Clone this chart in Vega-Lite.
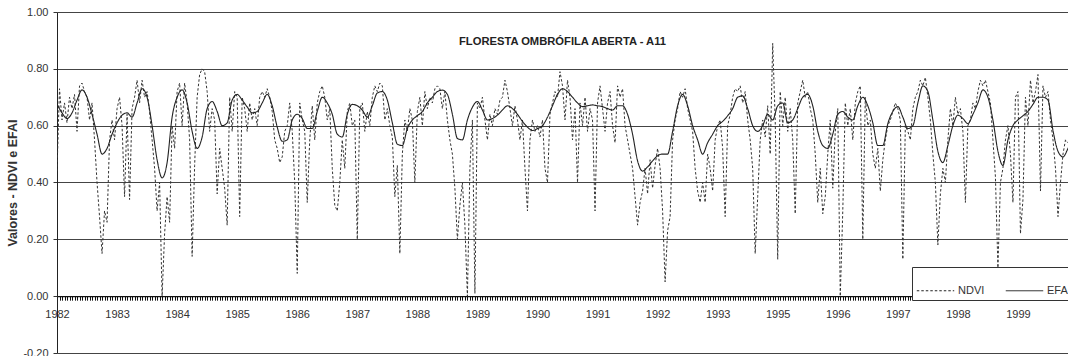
{
"$schema": "https://vega.github.io/schema/vega-lite/v6.json",
"width": 1011, "height": 341,
"autosize": {"type": "none"},
"padding": {"left": 57, "top": 12, "right": 0, "bottom": 3},
"background": "white",
"config": {"font": "Liberation Sans", "view": {"stroke": null}},
"title": {"text": "FLORESTA OMBRÓFILA ABERTA - A11", "fontSize": 11.2, "fontWeight": "bold", "color": "#222", "anchor": "middle", "frame": "group", "dy": 45},
"data": {"values": [
{"n":0,"NDVI":0.44,"EFAI":0.676},{"n":1,"NDVI":0.73},{"n":2,"NDVI":0.62,"EFAI":0.645},{"n":3,"NDVI":0.68},{"n":4,"NDVI":0.61,"EFAI":0.625},{"n":5,"NDVI":0.70},{"n":6,"NDVI":0.66,"EFAI":0.645},{"n":7,"NDVI":0.71},{"n":8,"NDVI":0.58,"EFAI":0.69},{"n":9,"NDVI":0.74},
{"n":10,"NDVI":0.75,"EFAI":0.726},{"n":11,"NDVI":0.72},{"n":12,"NDVI":0.70,"EFAI":0.70},{"n":13,"NDVI":0.62},{"n":14,"NDVI":0.68,"EFAI":0.64},{"n":15,"NDVI":0.55},{"n":16,"NDVI":0.40,"EFAI":0.57},{"n":17,"NDVI":0.28},{"n":18,"NDVI":0.15,"EFAI":0.50},{"n":19,"NDVI":0.30},
{"n":20,"NDVI":0.26,"EFAI":0.52},{"n":21,"NDVI":0.55},{"n":22,"NDVI":0.62,"EFAI":0.57},{"n":23,"NDVI":0.55},{"n":24,"NDVI":0.66,"EFAI":0.61},{"n":25,"NDVI":0.70},{"n":26,"NDVI":0.60,"EFAI":0.637},{"n":27,"NDVI":0.35},{"n":28,"NDVI":0.64,"EFAI":0.645},{"n":29,"NDVI":0.34},
{"n":30,"NDVI":0.66,"EFAI":0.63},{"n":31,"NDVI":0.70},{"n":32,"NDVI":0.76,"EFAI":0.68},{"n":33,"NDVI":0.68},{"n":34,"NDVI":0.76,"EFAI":0.73},{"n":35,"NDVI":0.70},{"n":36,"NDVI":0.72,"EFAI":0.70},{"n":37,"NDVI":0.65},{"n":38,"NDVI":0.55,"EFAI":0.60},{"n":39,"NDVI":0.45},
{"n":40,"NDVI":0.30,"EFAI":0.48},{"n":41,"NDVI":0.40},{"n":42,"NDVI":0.00,"EFAI":0.416},{"n":43,"NDVI":0.22},{"n":44,"NDVI":0.35,"EFAI":0.47},{"n":45,"NDVI":0.26},{"n":46,"NDVI":0.60,"EFAI":0.63},{"n":47,"NDVI":0.52},{"n":48,"NDVI":0.72,"EFAI":0.70},{"n":49,"NDVI":0.75},
{"n":50,"NDVI":0.60,"EFAI":0.726},{"n":51,"NDVI":0.75},{"n":52,"NDVI":0.68,"EFAI":0.68},{"n":53,"NDVI":0.55},{"n":54,"NDVI":0.14,"EFAI":0.58},{"n":55,"NDVI":0.46},{"n":56,"NDVI":0.70,"EFAI":0.52},{"n":57,"NDVI":0.78},{"n":58,"NDVI":0.80,"EFAI":0.56},{"n":59,"NDVI":0.79},
{"n":60,"NDVI":0.72,"EFAI":0.66},{"n":61,"NDVI":0.58},{"n":62,"NDVI":0.66,"EFAI":0.685},{"n":63,"NDVI":0.62},{"n":64,"NDVI":0.36,"EFAI":0.65},{"n":65,"NDVI":0.52},{"n":66,"NDVI":0.45,"EFAI":0.60},{"n":67,"NDVI":0.38},{"n":68,"NDVI":0.25,"EFAI":0.61},{"n":69,"NDVI":0.70},
{"n":70,"NDVI":0.58,"EFAI":0.69},{"n":71,"NDVI":0.72},{"n":72,"NDVI":0.70,"EFAI":0.71},{"n":73,"NDVI":0.28},{"n":74,"NDVI":0.70,"EFAI":0.69},{"n":75,"NDVI":0.66},{"n":76,"NDVI":0.58,"EFAI":0.666},{"n":77,"NDVI":0.68},{"n":78,"NDVI":0.62,"EFAI":0.645},{"n":79,"NDVI":0.66},
{"n":80,"NDVI":0.60,"EFAI":0.65},{"n":81,"NDVI":0.70},{"n":82,"NDVI":0.72,"EFAI":0.68},{"n":83,"NDVI":0.70},{"n":84,"NDVI":0.73,"EFAI":0.71},{"n":85,"NDVI":0.70},{"n":86,"NDVI":0.65,"EFAI":0.67},{"n":87,"NDVI":0.55},{"n":88,"NDVI":0.52,"EFAI":0.595},{"n":89,"NDVI":0.47},
{"n":90,"NDVI":0.49,"EFAI":0.545},{"n":91,"NDVI":0.58},{"n":92,"NDVI":0.60,"EFAI":0.55},{"n":93,"NDVI":0.68},{"n":94,"NDVI":0.58,"EFAI":0.62},{"n":95,"NDVI":0.40},{"n":96,"NDVI":0.08,"EFAI":0.64},{"n":97,"NDVI":0.68},{"n":98,"NDVI":0.62,"EFAI":0.625},{"n":99,"NDVI":0.58},
{"n":100,"NDVI":0.33,"EFAI":0.59},{"n":101,"NDVI":0.55},{"n":102,"NDVI":0.67,"EFAI":0.59},{"n":103,"NDVI":0.55},{"n":104,"NDVI":0.68,"EFAI":0.65},{"n":105,"NDVI":0.72},{"n":106,"NDVI":0.74,"EFAI":0.70},{"n":107,"NDVI":0.70},{"n":108,"NDVI":0.62,"EFAI":0.68},{"n":109,"NDVI":0.66},
{"n":110,"NDVI":0.45,"EFAI":0.64},{"n":111,"NDVI":0.32},{"n":112,"NDVI":0.30,"EFAI":0.57},{"n":113,"NDVI":0.40},{"n":114,"NDVI":0.55,"EFAI":0.56},{"n":115,"NDVI":0.45},{"n":116,"NDVI":0.65,"EFAI":0.64},{"n":117,"NDVI":0.68},{"n":118,"NDVI":0.60,"EFAI":0.675},{"n":119,"NDVI":0.62},
{"n":120,"NDVI":0.20,"EFAI":0.67},{"n":121,"NDVI":0.66},{"n":122,"NDVI":0.68,"EFAI":0.655},{"n":123,"NDVI":0.58},{"n":124,"NDVI":0.65,"EFAI":0.63},{"n":125,"NDVI":0.60},{"n":126,"NDVI":0.70,"EFAI":0.67},{"n":127,"NDVI":0.74},{"n":128,"NDVI":0.72,"EFAI":0.715},{"n":129,"NDVI":0.75},
{"n":130,"NDVI":0.74,"EFAI":0.72},{"n":131,"NDVI":0.62},{"n":132,"NDVI":0.66,"EFAI":0.69},{"n":133,"NDVI":0.60},{"n":134,"NDVI":0.56,"EFAI":0.61},{"n":135,"NDVI":0.35},{"n":136,"NDVI":0.46,"EFAI":0.535},{"n":137,"NDVI":0.15},{"n":138,"NDVI":0.50,"EFAI":0.53},{"n":139,"NDVI":0.62},
{"n":140,"NDVI":0.58,"EFAI":0.59},{"n":141,"NDVI":0.66},{"n":142,"NDVI":0.62,"EFAI":0.62},{"n":143,"NDVI":0.40},{"n":144,"NDVI":0.65,"EFAI":0.635},{"n":145,"NDVI":0.70},{"n":146,"NDVI":0.60,"EFAI":0.65},{"n":147,"NDVI":0.72},{"n":148,"NDVI":0.66,"EFAI":0.68},{"n":149,"NDVI":0.70},
{"n":150,"NDVI":0.68,"EFAI":0.70},{"n":151,"NDVI":0.73},{"n":152,"NDVI":0.74,"EFAI":0.72},{"n":153,"NDVI":0.73},{"n":154,"NDVI":0.66,"EFAI":0.725},{"n":155,"NDVI":0.72},{"n":156,"NDVI":0.62,"EFAI":0.71},{"n":157,"NDVI":0.55},{"n":158,"NDVI":0.50,"EFAI":0.64},{"n":159,"NDVI":0.38},
{"n":160,"NDVI":0.20,"EFAI":0.555},{"n":161,"NDVI":0.32},{"n":162,"NDVI":0.40,"EFAI":0.55},{"n":163,"NDVI":0.25},{"n":164,"NDVI":0.00,"EFAI":0.62},{"n":165,"NDVI":0.45},{"n":166,"NDVI":0.62,"EFAI":0.665},{"n":167,"NDVI":0.01},{"n":168,"NDVI":0.68,"EFAI":0.685},{"n":169,"NDVI":0.66},
{"n":170,"NDVI":0.70,"EFAI":0.655},{"n":171,"NDVI":0.62},{"n":172,"NDVI":0.55,"EFAI":0.62},{"n":173,"NDVI":0.64},{"n":174,"NDVI":0.60,"EFAI":0.625},{"n":175,"NDVI":0.66},{"n":176,"NDVI":0.64,"EFAI":0.637},{"n":177,"NDVI":0.69},{"n":178,"NDVI":0.70,"EFAI":0.655},{"n":179,"NDVI":0.76},
{"n":180,"NDVI":0.72,"EFAI":0.67},{"n":181,"NDVI":0.66},{"n":182,"NDVI":0.60,"EFAI":0.66},{"n":183,"NDVI":0.67},{"n":184,"NDVI":0.62,"EFAI":0.64},{"n":185,"NDVI":0.55},{"n":186,"NDVI":0.62,"EFAI":0.615},{"n":187,"NDVI":0.45},{"n":188,"NDVI":0.30,"EFAI":0.595},{"n":189,"NDVI":0.55},
{"n":190,"NDVI":0.62,"EFAI":0.583},{"n":191,"NDVI":0.58},{"n":192,"NDVI":0.60,"EFAI":0.59},{"n":193,"NDVI":0.56},{"n":194,"NDVI":0.62,"EFAI":0.60},{"n":195,"NDVI":0.45},{"n":196,"NDVI":0.40,"EFAI":0.63},{"n":197,"NDVI":0.64},{"n":198,"NDVI":0.68,"EFAI":0.67},{"n":199,"NDVI":0.72},
{"n":200,"NDVI":0.70,"EFAI":0.71},{"n":201,"NDVI":0.79},{"n":202,"NDVI":0.74,"EFAI":0.73},{"n":203,"NDVI":0.62},{"n":204,"NDVI":0.76,"EFAI":0.72},{"n":205,"NDVI":0.70},{"n":206,"NDVI":0.55,"EFAI":0.70},{"n":207,"NDVI":0.66},{"n":208,"NDVI":0.40,"EFAI":0.68},{"n":209,"NDVI":0.68},
{"n":210,"NDVI":0.60,"EFAI":0.667},{"n":211,"NDVI":0.70},{"n":212,"NDVI":0.58,"EFAI":0.67},{"n":213,"NDVI":0.66},{"n":214,"NDVI":0.62,"EFAI":0.673},{"n":215,"NDVI":0.30},{"n":216,"NDVI":0.68,"EFAI":0.67},{"n":217,"NDVI":0.74},{"n":218,"NDVI":0.66,"EFAI":0.667},{"n":219,"NDVI":0.58},
{"n":220,"NDVI":0.68,"EFAI":0.66},{"n":221,"NDVI":0.72},{"n":222,"NDVI":0.60,"EFAI":0.655},{"n":223,"NDVI":0.54},{"n":224,"NDVI":0.74,"EFAI":0.67},{"n":225,"NDVI":0.70},{"n":226,"NDVI":0.73,"EFAI":0.67},{"n":227,"NDVI":0.60},{"n":228,"NDVI":0.55,"EFAI":0.64},{"n":229,"NDVI":0.50},
{"n":230,"NDVI":0.45,"EFAI":0.57},{"n":231,"NDVI":0.35},{"n":232,"NDVI":0.25,"EFAI":0.476},{"n":233,"NDVI":0.33},{"n":234,"NDVI":0.37,"EFAI":0.44},{"n":235,"NDVI":0.45},{"n":236,"NDVI":0.36,"EFAI":0.455},{"n":237,"NDVI":0.48},{"n":238,"NDVI":0.38,"EFAI":0.476},{"n":239,"NDVI":0.46},
{"n":240,"NDVI":0.52,"EFAI":0.494},{"n":241,"NDVI":0.45},{"n":242,"NDVI":0.30,"EFAI":0.50},{"n":243,"NDVI":0.05},{"n":244,"NDVI":0.23,"EFAI":0.50},{"n":245,"NDVI":0.28},{"n":246,"NDVI":0.55,"EFAI":0.58},{"n":247,"NDVI":0.62},{"n":248,"NDVI":0.66,"EFAI":0.67},{"n":249,"NDVI":0.72},
{"n":250,"NDVI":0.70,"EFAI":0.71},{"n":251,"NDVI":0.73},{"n":252,"NDVI":0.66,"EFAI":0.67},{"n":253,"NDVI":0.62},{"n":254,"NDVI":0.58,"EFAI":0.60},{"n":255,"NDVI":0.45},{"n":256,"NDVI":0.37,"EFAI":0.55},{"n":257,"NDVI":0.33},{"n":258,"NDVI":0.40,"EFAI":0.50},{"n":259,"NDVI":0.33},
{"n":260,"NDVI":0.50,"EFAI":0.54},{"n":261,"NDVI":0.45},{"n":262,"NDVI":0.37,"EFAI":0.57},{"n":263,"NDVI":0.55},{"n":264,"NDVI":0.60,"EFAI":0.60},{"n":265,"NDVI":0.62},{"n":266,"NDVI":0.52,"EFAI":0.615},{"n":267,"NDVI":0.28},{"n":268,"NDVI":0.60,"EFAI":0.635},{"n":269,"NDVI":0.64},
{"n":270,"NDVI":0.70,"EFAI":0.66},{"n":271,"NDVI":0.73},{"n":272,"NDVI":0.72,"EFAI":0.70},{"n":273,"NDVI":0.74},{"n":274,"NDVI":0.68,"EFAI":0.705},{"n":275,"NDVI":0.72},{"n":276,"NDVI":0.62,"EFAI":0.66},{"n":277,"NDVI":0.55},{"n":278,"NDVI":0.45,"EFAI":0.60},{"n":279,"NDVI":0.15},
{"n":280,"NDVI":0.35,"EFAI":0.58},{"n":281,"NDVI":0.55},{"n":282,"NDVI":0.62,"EFAI":0.60},{"n":283,"NDVI":0.56},{"n":284,"NDVI":0.67,"EFAI":0.64},{"n":285,"NDVI":0.50},{"n":286,"NDVI":0.89,"EFAI":0.62},{"n":287,"NDVI":0.62},{"n":288,"NDVI":0.13,"EFAI":0.67},{"n":289,"NDVI":0.72},
{"n":290,"NDVI":0.60,"EFAI":0.68},{"n":291,"NDVI":0.70},{"n":292,"NDVI":0.58,"EFAI":0.61},{"n":293,"NDVI":0.66},{"n":294,"NDVI":0.55,"EFAI":0.62},{"n":295,"NDVI":0.29},{"n":296,"NDVI":0.68,"EFAI":0.66},{"n":297,"NDVI":0.72},{"n":298,"NDVI":0.76,"EFAI":0.70},{"n":299,"NDVI":0.70},
{"n":300,"NDVI":0.72,"EFAI":0.71},{"n":301,"NDVI":0.66},{"n":302,"NDVI":0.62,"EFAI":0.67},{"n":303,"NDVI":0.50},{"n":304,"NDVI":0.33,"EFAI":0.58},{"n":305,"NDVI":0.45},{"n":306,"NDVI":0.29,"EFAI":0.53},{"n":307,"NDVI":0.35},{"n":308,"NDVI":0.50,"EFAI":0.52},{"n":309,"NDVI":0.62},
{"n":310,"NDVI":0.38,"EFAI":0.57},{"n":311,"NDVI":0.58},{"n":312,"NDVI":0.66,"EFAI":0.64},{"n":313,"NDVI":0.00},{"n":314,"NDVI":0.30,"EFAI":0.65},{"n":315,"NDVI":0.68},{"n":316,"NDVI":0.60,"EFAI":0.63},{"n":317,"NDVI":0.66},{"n":318,"NDVI":0.55,"EFAI":0.62},{"n":319,"NDVI":0.68},
{"n":320,"NDVI":0.72,"EFAI":0.67},{"n":321,"NDVI":0.74},{"n":322,"NDVI":0.20,"EFAI":0.70},{"n":323,"NDVI":0.70},{"n":324,"NDVI":0.60,"EFAI":0.67},{"n":325,"NDVI":0.62},{"n":326,"NDVI":0.50,"EFAI":0.61},{"n":327,"NDVI":0.45},{"n":328,"NDVI":0.52,"EFAI":0.53},{"n":329,"NDVI":0.37},
{"n":330,"NDVI":0.48,"EFAI":0.53},{"n":331,"NDVI":0.55},{"n":332,"NDVI":0.60,"EFAI":0.607},{"n":333,"NDVI":0.62},{"n":334,"NDVI":0.65,"EFAI":0.65},{"n":335,"NDVI":0.68},{"n":336,"NDVI":0.66,"EFAI":0.667},{"n":337,"NDVI":0.62},{"n":338,"NDVI":0.13,"EFAI":0.63},{"n":339,"NDVI":0.60},
{"n":340,"NDVI":0.58,"EFAI":0.59},{"n":341,"NDVI":0.55},{"n":342,"NDVI":0.66,"EFAI":0.60},{"n":343,"NDVI":0.70},{"n":344,"NDVI":0.72,"EFAI":0.68},{"n":345,"NDVI":0.76},{"n":346,"NDVI":0.74,"EFAI":0.74},{"n":347,"NDVI":0.77},{"n":348,"NDVI":0.70,"EFAI":0.72},{"n":349,"NDVI":0.62},
{"n":350,"NDVI":0.50,"EFAI":0.62},{"n":351,"NDVI":0.40},{"n":352,"NDVI":0.18,"EFAI":0.51},{"n":353,"NDVI":0.36},{"n":354,"NDVI":0.45,"EFAI":0.47},{"n":355,"NDVI":0.40},{"n":356,"NDVI":0.55,"EFAI":0.53},{"n":357,"NDVI":0.66},{"n":358,"NDVI":0.60,"EFAI":0.60},{"n":359,"NDVI":0.70},
{"n":360,"NDVI":0.64,"EFAI":0.637},{"n":361,"NDVI":0.66},{"n":362,"NDVI":0.58,"EFAI":0.625},{"n":363,"NDVI":0.33},{"n":364,"NDVI":0.60,"EFAI":0.607},{"n":365,"NDVI":0.62},{"n":366,"NDVI":0.68,"EFAI":0.64},{"n":367,"NDVI":0.66},{"n":368,"NDVI":0.72,"EFAI":0.68},{"n":369,"NDVI":0.76},
{"n":370,"NDVI":0.74,"EFAI":0.726},{"n":371,"NDVI":0.76},{"n":372,"NDVI":0.72,"EFAI":0.70},{"n":373,"NDVI":0.68},{"n":374,"NDVI":0.55,"EFAI":0.62},{"n":375,"NDVI":0.42},{"n":376,"NDVI":0.10,"EFAI":0.51},{"n":377,"NDVI":0.40},{"n":378,"NDVI":0.45,"EFAI":0.46},{"n":379,"NDVI":0.55},
{"n":380,"NDVI":0.60,"EFAI":0.55},{"n":381,"NDVI":0.50},{"n":382,"NDVI":0.33,"EFAI":0.60},{"n":383,"NDVI":0.70},{"n":384,"NDVI":0.72,"EFAI":0.62},{"n":385,"NDVI":0.22},{"n":386,"NDVI":0.34,"EFAI":0.635},{"n":387,"NDVI":0.70},{"n":388,"NDVI":0.60,"EFAI":0.65},{"n":389,"NDVI":0.76},
{"n":390,"NDVI":0.68,"EFAI":0.675},{"n":391,"NDVI":0.72},{"n":392,"NDVI":0.78,"EFAI":0.70},{"n":393,"NDVI":0.37},{"n":394,"NDVI":0.74,"EFAI":0.70},{"n":395,"NDVI":0.70},{"n":396,"NDVI":0.72,"EFAI":0.69},{"n":397,"NDVI":0.62},{"n":398,"NDVI":0.55,"EFAI":0.583},{"n":399,"NDVI":0.45},
{"n":400,"NDVI":0.28,"EFAI":0.51},{"n":401,"NDVI":0.40},{"n":402,"NDVI":0.50,"EFAI":0.49},{"n":403,"NDVI":0.55},{"n":404,"NDVI":0.54,"EFAI":0.52},{"n":405,"NDVI":0.55},{"n":406,"NDVI":0.56,"EFAI":0.56}
]},
"encoding": {
  "x": {"field": "n", "type": "quantitative",
    "scale": {"domain": [0, 404], "nice": false, "zero": false},
    "axis": {"orient": "bottom", "offset": -56.83, "tickCount": 404, "grid": false, "title": null,
      "labelExpr": "datum.value % 24 == 0 ? ((datum.value / 24 < 12 ? 1982 : 1983) + datum.value / 24) + '' : ''",
      "labelOverlap": false, "labelFlush": false, "labelBound": false,
      "tickSize": 4, "tickColor": "#111", "tickWidth": 1, "domainColor": "#111", "domainWidth": 1.2,
      "labelFontSize": 11, "labelColor": "#333", "labelPadding": 8}}
},
"layer": [
  {"mark": {"type": "line", "strokeWidth": 1, "color": "#333", "clip": true},
   "encoding": {
     "y": {"field": "NDVI", "type": "quantitative",
       "scale": {"domain": [-0.2, 1.0], "nice": false, "zero": false},
       "axis": {"values": [-0.2, 0, 0.2, 0.4, 0.6, 0.8, 1.0], "grid": true, "gridColor": "#444", "gridWidth": 1, "gridOpacity": 1,
         "domainColor": "#222", "tickSize": 4, "tickColor": "#333",
         "labelExpr": "replace(format(datum.value, '.2f'), '\u2212', '-')",
         "labelFontSize": 11, "labelColor": "#333", "labelPadding": 5,
         "title": "Valores - NDVI e EFAI", "titleFontSize": 12.5, "titleFontWeight": "bold", "titleColor": "#333", "titlePadding": 3}},
     "strokeDash": {"datum": "NDVI", "type": "nominal",
       "scale": {"domain": ["NDVI", "EFAI"], "range": [[2.5, 2], [1, 0]]},
       "legend": {"title": null, "orient": "none", "legendX": 855, "legendY": 255, "direction": "horizontal",
         "strokeColor": "#333", "fillColor": "white", "padding": 4, "symbolType": "stroke", "symbolSize": 1400,
         "symbolStrokeWidth": 1, "symbolStrokeColor": "#333", "labelFontSize": 11, "labelColor": "#333",
         "columnPadding": 18, "labelOffset": 3}}
   }},
  {"transform": [{"filter": "isValid(datum.EFAI)"}],
   "mark": {"type": "line", "strokeWidth": 1.1, "color": "#222", "interpolate": "monotone", "clip": true},
   "encoding": {
     "y": {"field": "EFAI", "type": "quantitative", "axis": {"values": [-0.2, 0, 0.2, 0.4, 0.6, 0.8, 1.0], "title": "Valores - NDVI e EFAI"}},
     "strokeDash": {"datum": "EFAI", "type": "nominal"}
   }}
]
}
